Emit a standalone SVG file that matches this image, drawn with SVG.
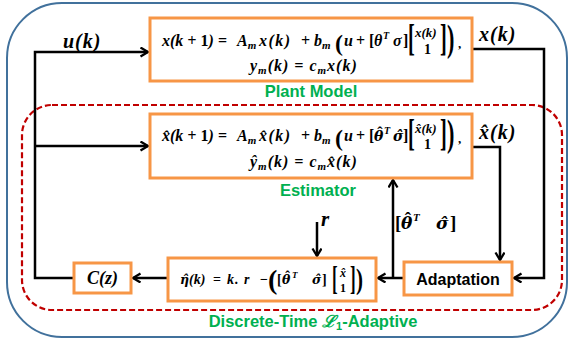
<svg xmlns="http://www.w3.org/2000/svg" width="573" height="341" viewBox="0 0 573 341" font-size="16">
<style>
.m{font-family:"Liberation Serif","DejaVu Serif",serif;font-weight:bold;font-style:italic;fill:#000}
.gr{font-family:"DejaVu Serif",serif}
.n{font-style:normal}
.s{font-size:11px}
.g{font-family:"Liberation Sans",Arial,sans-serif;font-weight:bold;fill:#00B050;font-size:16.5px;text-anchor:middle}
.box{fill:#fff;stroke:#F79646;stroke-width:3}
.wire{fill:none;stroke:#000;stroke-width:2.5}
.lbl{font-family:"Liberation Sans",Arial,sans-serif;font-weight:bold;font-size:16px;fill:#000;text-anchor:middle}
</style>
<defs>
<marker id="ah" markerWidth="12" markerHeight="12" refX="9" refY="5" orient="auto" markerUnits="userSpaceOnUse">
<path d="M1.5,0.5 L9,5 L1.5,9.5" fill="none" stroke="#000" stroke-width="2.3"/>
</marker>
</defs>
<rect width="573" height="341" fill="#fff"/>
<rect id="frame" x="7" y="3" width="560" height="334" rx="55" ry="55" fill="none" stroke="#41719C" stroke-width="2"/>
<rect id="l1-region" x="22" y="105" width="540" height="205" rx="30" ry="30" fill="none" stroke="#C00000" stroke-width="2.2" stroke-dasharray="6 3"/>

<g id="connectors">
<polyline class="wire" points="74,278 35,278 35,52 148,52" marker-end="url(#ah)"/>
<polyline class="wire" points="35,146 148,146" marker-end="url(#ah)"/>
<polyline class="wire" points="472,49 544,49 544,278 514,278" marker-end="url(#ah)"/>
<polyline class="wire" points="472,147 500,147 500,260" marker-end="url(#ah)"/>
<polyline class="wire" points="404,278 378,278" marker-end="url(#ah)"/>
<polyline class="wire" points="393,278 393,180" marker-end="url(#ah)"/>
<polyline class="wire" points="168,278 133,278" marker-end="url(#ah)"/>
<polyline class="wire" points="317,222 317,256" marker-end="url(#ah)"/>
<text class="m" x="63" y="48" font-size="20" letter-spacing="1">u(k)</text>
<text class="m" x="479" y="41" font-size="20" letter-spacing="1">x(k)</text>
<text class="m" x="479" y="139" font-size="20" letter-spacing="1">x̂(k)</text>
<text class="m" x="321" y="226" font-size="21">r</text>
<text class="m" x="395" y="229" font-size="19"><tspan class="n">[</tspan><tspan class="gr" x="401" font-size="17">θ</tspan><tspan class="n" dx="-7.5" dy="-4">ˆ</tspan><tspan x="413" y="221" font-size="11">T</tspan><tspan class="gr" x="436" y="229" font-size="17">σ̂</tspan><tspan class="n" x="450">]</tspan></text>
</g>

<g id="plant">
<rect class="box" x="150" y="18" width="322" height="63"/>
<text class="m" x="162" y="46">x(k + <tspan class="n">1</tspan>)</text>
<text class="m n" x="218" y="46">=</text>
<text class="m" x="237" y="46">A<tspan class="s" dy="3">m</tspan></text>
<text class="m" x="259" y="46" letter-spacing="1.5">x(k)</text>
<text class="m n" x="301" y="46">+</text>
<text class="m" x="314" y="46">b<tspan class="s" dy="3">m</tspan></text>
<text class="m n" x="335" y="51" font-size="24">(</text>
<text class="m" x="344" y="46">u</text>
<text class="m n" x="356" y="46">+</text>
<text class="m n" x="369" y="46">[</text>
<text class="m" x="374" y="46">θ</text>
<text class="m" x="383" y="39" font-size="10">T</text>
<text class="m" x="393" y="46">σ</text>
<text class="m n" x="403" y="46">]</text>
<text class="m n" transform="translate(408,51) scale(0.55,1)" font-size="37">[</text>
<text class="m" x="415" y="37" font-size="13">x(k)</text>
<text class="m n" x="424" y="54" font-size="14">1</text>
<text class="m n" transform="translate(440,51) scale(0.55,1)" font-size="37">]</text>
<text class="m n" transform="translate(447,51) scale(0.6,1)" font-size="37">)</text>
<text class="m n" x="458" y="48" font-size="13">,</text>
<text class="m" x="250" y="71" letter-spacing="1">y<tspan class="s" dy="3">m</tspan><tspan dy="-3">(k) = c</tspan><tspan class="s" dy="3">m</tspan><tspan dy="-3">x(k)</tspan></text>
<text class="g" x="311" y="97">Plant Model</text>
</g>

<g id="estimator">
<rect class="box" x="150" y="114" width="322" height="64"/>
<text class="m" x="162" y="141">x̂(k + <tspan class="n">1</tspan>)</text>
<text class="m n" x="218" y="141">=</text>
<text class="m" x="237" y="141">A<tspan class="s" dy="3">m</tspan></text>
<text class="m" x="259" y="141" letter-spacing="1.5">x̂(k)</text>
<text class="m n" x="301" y="141">+</text>
<text class="m" x="314" y="141">b<tspan class="s" dy="3">m</tspan></text>
<text class="m n" x="335" y="146" font-size="24">(</text>
<text class="m" x="344" y="141">u</text>
<text class="m n" x="356" y="141">+</text>
<text class="m" x="369" y="141"><tspan class="n">[</tspan><tspan class="gr" x="374" font-size="14">θ</tspan><tspan class="n" dx="-6" dy="-3">ˆ</tspan><tspan x="384" y="134" font-size="10">T</tspan><tspan class="gr" x="393" y="141" font-size="14">σ̂</tspan><tspan class="n" x="403">]</tspan></text>
<text class="m n" transform="translate(408,146) scale(0.55,1)" font-size="37">[</text>
<text class="m" x="415" y="133" font-size="13">x̂(k)</text>
<text class="m n" x="424" y="149" font-size="14">1</text>
<text class="m n" transform="translate(440,146) scale(0.55,1)" font-size="37">]</text>
<text class="m n" transform="translate(447,146) scale(0.6,1)" font-size="37">)</text>
<text class="m n" x="458" y="143" font-size="13">,</text>
<text class="m" x="250" y="167" letter-spacing="1">ŷ<tspan class="s" dy="3">m</tspan><tspan dy="-3">(k) = c</tspan><tspan class="s" dy="3">m</tspan><tspan dy="-3">x̂(k)</tspan></text>
<text class="g" x="318" y="196">Estimator</text>
</g>

<g id="control-law">
<rect class="box" x="168" y="258" width="208" height="43"/>
<text class="m" x="180" y="284" font-size="14"><tspan class="gr" font-size="12.5">η̂</tspan>(k)</text>
<text class="m n" x="213" y="284" font-size="14">=</text>
<text class="m" x="227" y="284" font-size="14" letter-spacing="1">k. r</text>
<text class="m n" x="260" y="284" font-size="14">−</text>
<text class="m n" x="268" y="289" font-size="28">(</text>
<text class="m" x="277" y="284" font-size="14"><tspan class="n">[</tspan><tspan class="gr" x="282" font-size="12.5">θ</tspan><tspan class="n" dx="-5.2" dy="-3">ˆ</tspan><tspan x="292" y="278" font-size="9">T</tspan><tspan class="gr" x="312" y="284" font-size="12.5">σ̂</tspan><tspan class="n" x="322">]</tspan></text>
<text class="m n" transform="translate(332,290) scale(0.5,1)" font-size="34">[</text>
<text class="m" x="340" y="277" font-size="12">x̂</text>
<text class="m n" x="340" y="292" font-size="12">1</text>
<text class="m n" transform="translate(350,290) scale(0.5,1)" font-size="34">]</text>
<text class="m n" transform="translate(356,289) scale(0.7,1)" font-size="30">)</text>
</g>

<g id="cz">
<rect class="box" x="74" y="263" width="57" height="30"/>
<text class="m" x="102.5" y="284" font-size="18" text-anchor="middle">C(z)</text>
</g>

<g id="adaptation">
<rect class="box" x="404" y="262" width="108" height="33"/>
<text class="lbl" x="458" y="285">Adaptation</text>
</g>

<text class="g" x="313" y="327">Discrete-Time <tspan font-style="italic">ℒ</tspan><tspan style="font-size:11px" dy="3">1</tspan><tspan dy="-3">-Adaptive</tspan></text>
</svg>
